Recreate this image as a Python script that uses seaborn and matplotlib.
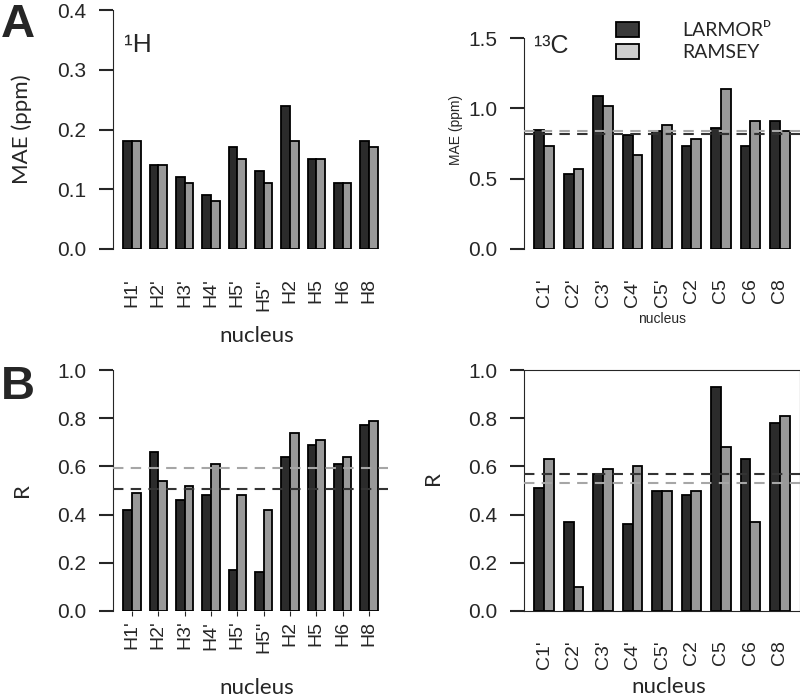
import pandas as pd
import matplotlib.pyplot as plt
import seaborn as sns
from matplotlib.patches import Patch

# nuclei (x categories)
h_nuclei = ["H1'", "H2'", "H3'", "H4'", "H5'", "H5''", "H2", "H5", "H6", "H8"]
c_nuclei = ["C1'", "C2'", "C3'", "C4'", "C5'", "C2", "C5", "C6", "C8"]
methods = ["LARMOR", "RAMSEY"]

# A: mean absolute error (ppm)
h_mae_larmor = [0.18, 0.14, 0.12, 0.09, 0.17, 0.13, 0.24, 0.15, 0.11, 0.18]
h_mae_ramsey = [0.18, 0.14, 0.11, 0.08, 0.15, 0.11, 0.18, 0.15, 0.11, 0.17]
c_mae_larmor = [0.85, 0.53, 1.09, 0.81, 0.84, 0.73, 0.86, 0.73, 0.91]
c_mae_ramsey = [0.73, 0.57, 1.02, 0.67, 0.88, 0.78, 1.14, 0.91, 0.84]

# B: correlation R
h_r_larmor = [0.42, 0.66, 0.46, 0.48, 0.17, 0.16, 0.64, 0.69, 0.61, 0.77]
h_r_ramsey = [0.49, 0.54, 0.52, 0.61, 0.48, 0.42, 0.74, 0.71, 0.64, 0.79]
c_r_larmor = [0.51, 0.37, 0.57, 0.36, 0.50, 0.48, 0.93, 0.63, 0.78]
c_r_ramsey = [0.63, 0.10, 0.59, 0.60, 0.50, 0.50, 0.68, 0.37, 0.81]

DARK = "#2b2b2b"
GRAY = "#999999"
LINE_COLORS = {"LARMOR": "#333333", "RAMSEY": "#a6a6a6"}

sns.set_style("ticks")
plt.rcParams["font.family"] = ["Liberation Sans", "DejaVu Sans"]
LABEL_FONT = ["Lato", "DejaVu Sans"]


def make_df(nuclei, larmor, ramsey):
    return pd.DataFrame({
        "nucleus": nuclei * 2,
        "value": larmor + ramsey,
        "method": ["LARMOR"] * len(nuclei) + ["RAMSEY"] * len(nuclei),
    })


def draw_panel(ax, nuclei, larmor, ramsey, ylim, yticks, ylabel, ylab_y=0.5,
               xlab_y=-0.36, variant=0):
    df = make_df(nuclei, larmor, ramsey)
    sns.barplot(data=df, x="nucleus", y="value", hue="method", order=nuclei,
                hue_order=methods, palette=[DARK, GRAY], width=2 / 3, gap=0,
                edgecolor="black", linewidth=1.3, errorbar=None, legend=False, ax=ax)
    n = len(nuclei)
    pad = (1 + 0.04 * (3 * n - 1)) / 3
    ax.set_xlim(-pad, n - 1 + pad)
    ax.set_ylim(*ylim)
    ax.set_yticks(yticks)
    ax.spines["left"].set_bounds(yticks[0], yticks[-1])
    ax.tick_params(axis="y", left=True, length=10, width=1.5, pad=9, labelsize=15)
    ax.yaxis.set_major_formatter("{x:.1f}")
    if variant != 3:
        ax.tick_params(axis="x", bottom=False, length=0, pad=21, labelsize=14,
                       labelrotation=90)
    else:
        plt.setp(ax.get_xticklabels(), rotation=90, fontsize=14)
    if variant != 4:
        for s in ["top", "right", "bottom"]:
            ax.spines[s].set_visible(False)
    # dashed mean lines
    if variant != 1:
        for m in ["RAMSEY", "LARMOR"]:
            ax.axhline(df[df.method == m].value.mean(), color=LINE_COLORS[m],
                       ls=(0, (5, 3.5)), lw=1.5, zorder=3)
    if variant != 2:
        ax.set_xlabel("nucleus", fontsize=16, family=LABEL_FONT, va="center")
        ax.xaxis.set_label_coords(0.523, xlab_y)
        ax.set_ylabel(ylabel, fontsize=16, family=LABEL_FONT)
        ax.yaxis.set_label_coords(-0.295, ylab_y)
    else:
        ax.set_xlabel("nucleus")
        ax.set_ylabel(ylabel)


fig = plt.figure(figsize=(8, 6.99), dpi=100)
W, H = 800, 699


def rect(x0, x1, ytop, ybot):
    return [x0 / W, 1 - ybot / H, (x1 - x0) / W, (ybot - ytop) / H]


ax1 = fig.add_axes(rect(113, 388, 10, 249))
draw_panel(ax1, h_nuclei, h_mae_larmor, h_mae_ramsey, (0, 0.4),
           [0.0, 0.1, 0.2, 0.3, 0.4], "MAE (ppm)", xlab_y=-0.365, variant=1)
ax2 = fig.add_axes(rect(524, 800, 10, 249))
draw_panel(ax2, c_nuclei, c_mae_larmor, c_mae_ramsey, (0, 1.7),
           [0.0, 0.5, 1.0, 1.5], "MAE (ppm)", xlab_y=-0.35, variant=2)
ax3 = fig.add_axes(rect(113, 388, 370, 611))
draw_panel(ax3, h_nuclei, h_r_larmor, h_r_ramsey, (0, 1.0),
           [0.0, 0.2, 0.4, 0.6, 0.8, 1.0], "R", ylab_y=0.5, xlab_y=-0.32, variant=3)
ax4 = fig.add_axes(rect(524, 800, 370, 611))
draw_panel(ax4, c_nuclei, c_r_larmor, c_r_ramsey, (0, 1.0),
           [0.0, 0.2, 0.4, 0.6, 0.8, 1.0], "R", ylab_y=0.55, xlab_y=-0.315, variant=4)

# nucleus type labels
fig.text(124 / W, 1 - 52 / H, "\u00b9H", fontsize=19, va="baseline", ha="left")
fig.text(534 / W, 1 - 53 / H, "\u00b9\u00b3C", fontsize=18, va="baseline", ha="left")

# panel letters
fig.text(1 / W, 1 - 3 / H, "A", fontsize=34, weight="bold", va="top", ha="left")
fig.text(1 / W, 1 - 365 / H, "B", fontsize=34, weight="bold", va="top", ha="left")

handles = [Patch(facecolor="#3a3a3a", edgecolor="black", lw=1.3),
           Patch(facecolor="#cfcfcf", edgecolor="black", lw=1.3)]
ax2.legend(handles, ["LARMOR\u1d30", "RAMSEY"], loc="upper left",
           bbox_to_anchor=(606 / W, 1 - 12 / H), bbox_transform=fig.transFigure,
           frameon=False, borderpad=0, handlelength=1.2, handleheight=0.8,
           handletextpad=2.2, labelspacing=0.25,
           prop={"family": LABEL_FONT, "size": 14})

fig.savefig("out.png", dpi=100)
